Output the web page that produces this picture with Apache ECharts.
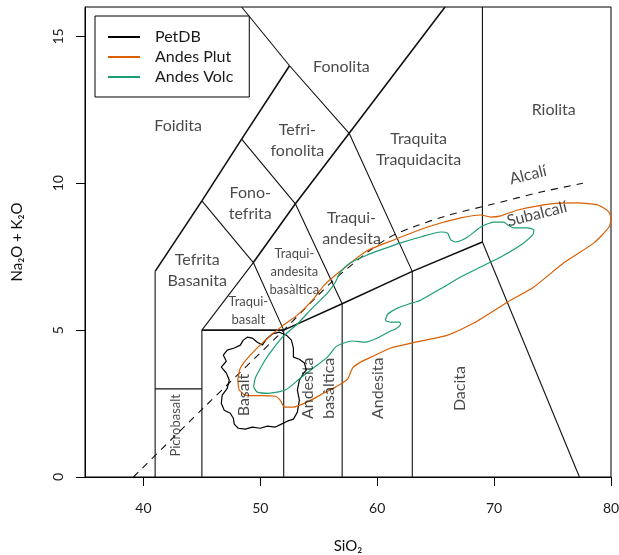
<!DOCTYPE html>
<html>
<head>
<meta charset="utf-8">
<script src="https://cdn.jsdelivr.net/npm/echarts@6/dist/echarts.min.js"></script>
<style>
html,body{margin:0;padding:0;background:#fff}
#main{width:619px;height:555px}
</style>
</head>
<body>
<div id="main"></div>
<script>
// ticks
var xTicks = [40, 50, 60, 70, 80]
var yTicks = [0, 5, 10, 15]

var seriesNames = ['PetDB', 'Andes Plut', 'Andes Volc']

// density contours (SiO2, Na2O+K2O)
var petdb = [[48.54,4.66],[48.89,4.76],[49.31,4.73],[49.74,4.59],[50.17,4.49],[50.51,4.69],[51.03,4.87],[51.63,4.93],
  [52.23,4.83],[52.66,4.66],[52.83,4.39],[52.83,4.08],[53.34,4.01],[53.77,3.88],[53.94,3.64],[53.77,3.57],[53.34,3.30],
  [53.17,2.96],[53.34,2.62],[53.17,2.21],[52.83,1.97],[52.31,1.90],[51.80,1.80],[51.29,1.70],[50.60,1.73],[50.00,1.66],
  [49.31,1.70],[48.71,1.63],[48.11,1.66],[47.77,1.80],[47.69,2.00],[47.43,2.17],[46.91,2.27],[46.66,2.51],[46.74,2.79],
  [47.17,3.02],[47.34,3.30],[47.09,3.54],[46.66,3.74],[47.09,3.94],[46.83,4.15],[47.17,4.32],[47.77,4.39],[48.29,4.49],[48.54,4.66]]

var andesPlut = [[48.07,3.30],[48.29,3.71],[49.14,4.15],[50.43,4.66],[51.97,5.17],[53.17,5.51],[54.46,6.02],[55.49,6.54],
  [56.86,7.01],[59.09,7.69],[61.40,8.07],[64.31,8.51],[67.14,8.82],[68.86,8.92],[69.71,8.85],[70.57,8.89],[72.03,9.09],
  [74.86,9.30],[77.17,9.33],[78.89,9.26],[79.83,9.02],[80.0,8.79],[79.83,8.51],[78.54,7.97],[75.97,7.29],[73.40,6.47],
  [71.17,5.96],[68.26,5.24],[66.03,4.83],[62.94,4.56],[61.14,4.39],[59.69,4.12],[58.57,3.91],[57.89,3.71],[57.46,3.33],
  [56.43,3.06],[55.40,2.85],[54.29,2.61],[52.83,2.38],[52.06,2.38],[51.71,2.61],[51.29,2.75],[48.71,2.79],[48.20,2.96],[48.07,3.30]]

var andesVolc = [[49.43,3.06],[49.57,3.37],[50.26,3.88],[50.69,4.15],[51.89,4.76],[53.17,5.21],[54.54,5.79],[55.74,6.26],
  [56.43,6.64],[56.86,6.98],[57.71,7.29],[59.17,7.56],[60.29,7.73],[62.00,7.97],[63.71,8.17],[65.43,8.34],[66.03,8.30],
  [66.29,8.07],[66.71,8.00],[67.74,8.17],[68.86,8.51],[69.97,8.68],[70.83,8.68],[71.17,8.58],[71.69,8.48],[72.89,8.48],
  [73.40,8.41],[73.30,8.24],[72.29,7.90],[70.57,7.49],[69.71,7.32],[67.14,6.81],[65.69,6.47],[63.71,6.02],[62.86,5.91],
  [61.74,5.75],[60.89,5.54],[60.71,5.34],[61.14,5.27],[61.91,5.27],[62.00,5.21],[61.57,5.04],[61.14,4.97],[60.03,4.73],
  [59.00,4.59],[57.89,4.63],[56.86,4.52],[56.43,4.42],[55.74,4.08],[54.54,3.71],[53.43,3.37],[52.14,2.96],[50.69,2.85],
  [49.74,2.89],[49.43,3.06]]

// TAS field boundaries
var thickBounds = [
  [[41,7],[45,9.4],[48.4,11.5],[52.5,14]],
  [[49.4,7.3],[53,9.3],[57.6,11.7],[65.8,16]],
  [[45,5],[52,5],[57,5.9],[63,7],[69,8]]
]
var thinBounds = [
  [[41,0],[41,7]],
  [[41,3],[45,3]],
  [[45,0],[45,5]],
  [[52,0],[52,5]],
  [[57,0],[57,5.9]],
  [[63,0],[63,7]],
  [[69,8],[69,16]],
  [[69,8],[77.3,0]],
  [[45,5],[49.4,7.3],[52,5]],
  [[45,9.4],[49.4,7.3]],
  [[48.4,11.5],[53,9.3],[57,5.9]],
  [[52.5,14],[48.4,16]],
  [[52.5,14],[57.6,11.7],[63,7]]
]
// alkaline / subalkaline divide
var alkaliLine = [[39.14,0],[45,2.3],[52,5.0],[56,6.6],[59,7.6],[61,8.15],[63,8.5],[66,8.9],[70,9.3],[74,9.7],[77.6,10.0]]

// field names
var bigLabels = [
  [42.97,11.96,'Foidita'],
  [53.17,11.47,'Tefri-\nfonolita'],
  [56.94,13.97,'Fonolita'],
  [49.14,9.30,'Fono-\ntefrita'],
  [44.6,7.05,'Tefrita\nBasanita'],
  [57.8,8.48,'Traqui-\nandesita'],
  [63.54,11.17,'Traquita\nTraquidacita'],
  [75.1,12.5,'Riolita']
]
var smallLabels = [
  [48.97,5.65,'Traqui-\nbasalt'],
  [52.91,6.98,'Traqui-\nandesita\nbasàltica']
]
var vertLabels = [
  [48.63,2.79,'Basalt'],
  [54.97,3.02,'Andesita\nbasàltica'],
  [60.03,3.02,'Andesita'],
  [67.09,3.01,'Dacita']
]
var vertSmallLabels = [
  [42.8,1.76,'Picrobasalt']
]
var tiltLabels = [
  [72.9,10.28,'Alcalí'],
  [73.66,8.95,'Subalcalí']
]

var FONT = 'Lato'
var series = []

function boundSeries(pts, w){
    series.push({
        type: 'line', data: pts, symbol: 'none', silent: true,
        lineStyle: {color: '#111', width: w}, z: 2
    })
}
thickBounds.forEach(function(p){ boundSeries(p, 1.6) })
thinBounds.forEach(function(p){ boundSeries(p, 1.1) })

series.push({
    type: 'line', data: alkaliLine, symbol: 'none', silent: true, smooth: 0.3,
    lineStyle: {color: '#111', width: 1.1, type: [7, 6]}, z: 2
})

var contourColors = ['#000000', '#D95F02', '#1B9E77']
var contourData = [petdb, andesPlut, andesVolc]
for(let i=0;i<3;i++){
    series.push({
        name: seriesNames[i], type: 'line', data: contourData[i], symbol: 'none',
        smooth: i == 0 ? false : 0.2, silent: true,
        lineStyle: {color: contourColors[i], width: 1.2},
        itemStyle: {color: contourColors[i]}, z: 3
    })
}

function labelSeries(list, size, rotate){
    series.push({
        type: 'scatter', symbolSize: 1, silent: true, z: 4,
        itemStyle: {color: 'rgba(0,0,0,0)'},
        data: list.map(function(l){ return {value: [l[0], l[1]], name: l[2]} }),
        label: {
            show: true, position: 'inside', formatter: '{b}', rotate: rotate,
            fontFamily: FONT, fontSize: size, color: '#1a1a1a', lineHeight: size + 5
        }
    })
}
labelSeries(bigLabels, 16, 0)
labelSeries(smallLabels, 13, 0)
labelSeries(vertLabels, 16, 90)
labelSeries(vertSmallLabels, 13, 90)
labelSeries(tiltLabels, 16, 14)

option = {
    animation: false,
    backgroundColor: '#fff',
    grid: {left: 85, right: 8, top: 7, bottom: 78, show: true, borderColor: '#000', borderWidth: 1,
        containLabel: false, outerBoundsMode: 'none'},
    legend: {
        data: seriesNames, orient: 'vertical', left: 95, top: 16,
        icon: 'rect', itemWidth: 32, itemHeight: 2, itemGap: 4,
        backgroundColor: '#fff', borderColor: '#000', borderWidth: 1, borderRadius: 0,
        padding: [13, 16, 12, 13],
        textStyle: {fontFamily: FONT, fontSize: 16, color: '#1a1a1a', lineHeight: 16, padding: [0, 0, 0, 10]}
    },
    xAxis: {
        type: 'value', min: 35, max: 80,
        name: 'SiO₂', nameLocation: 'middle', nameGap: 62,
        nameTextStyle: {fontFamily: FONT, fontSize: 15, color: '#111'},
        axisLine: {show: true, onZero: false, lineStyle: {color: '#000'}},
        axisTick: {show: true, length: 9, customValues: xTicks, lineStyle: {color: '#000'}},
        axisLabel: {customValues: xTicks, margin: 24, fontFamily: FONT, fontSize: 14, color: '#1a1a1a'},
        splitLine: {show: false}
    },
    yAxis: {
        type: 'value', min: 0, max: 16,
        name: 'Na₂O + K₂O', nameLocation: 'middle', nameGap: 60,
        nameTextStyle: {fontFamily: FONT, fontSize: 15, color: '#111'},
        axisLine: {show: true, onZero: false, lineStyle: {color: '#000'}},
        axisTick: {show: true, length: 9, customValues: yTicks, lineStyle: {color: '#000'}},
        axisLabel: {customValues: yTicks, margin: 20, rotate: 90, fontFamily: FONT, fontSize: 14, color: '#1a1a1a'},
        splitLine: {show: false}
    },
    series: series
}

var myChart = echarts.init(document.getElementById('main'))
myChart.setOption(option)
</script>
</body>
</html>
